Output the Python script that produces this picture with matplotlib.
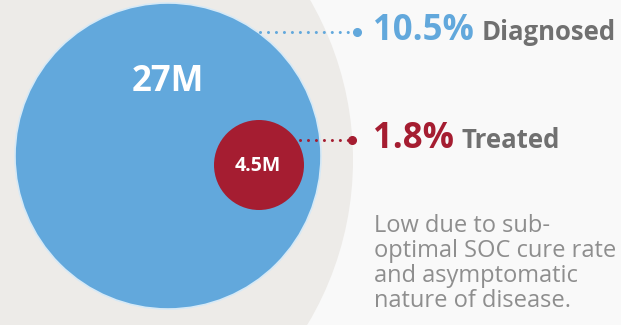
import matplotlib
matplotlib.use("Agg")
import matplotlib.pyplot as plt
from matplotlib.patches import Circle

# Figures shown in the graphic
population_labels = ["27M", "4.5M"]
rate_values = [10.5, 1.8]
rate_names = ["Diagnosed", "Treated"]
note_lines = ["Low due to sub-", "optimal SOC cure rate",
              "and asymptomatic", "nature of disease."]

BLUE = "#62a8dc"
RED = "#a51d31"
GRAY_TXT = "#707070"
NOTE_TXT = "#8e8e8e"
FONT = ["Open Sans", "DejaVu Sans"]

W, H = 621, 325
fig = plt.figure(figsize=(W / 100, H / 100), dpi=100)
fig.patch.set_facecolor("#f9f9f9")
ax = fig.add_axes([0, 0, 1, 1])
ax.set_xlim(0, W)
ax.set_ylim(H, 0)
ax.set_aspect("equal")
ax.axis("off")

# backdrop disc
ax.add_patch(Circle((33, 160), 320, facecolor="#edebe8", edgecolor="none", zorder=1))
# outer (diagnosed pool) and inner (treated) discs
ax.add_patch(Circle((168, 156), 153, facecolor=BLUE, edgecolor="#d6e9f6",
                    linewidth=1.2, zorder=2))
ax.add_patch(Circle((259, 165), 45, facecolor=RED, edgecolor="none", zorder=3))

ax.text(168, 82, population_labels[0], color="white", fontsize=25,
        fontweight="bold", ha="center", va="center", family=FONT, zorder=4)
ax.text(258, 166, population_labels[1], color="white", fontsize=14,
        fontweight="bold", ha="center", va="center", family=FONT, zorder=4)

# dotted leaders with end dots
leaders = [((260, 357), 32, BLUE), ((300, 352), 140, RED)]
for (x0, x1), y, c in leaders:
    ax.plot([x0, x1], [y, y], color=c, linewidth=2.2,
            linestyle=(0, (0.01, 2.6)), dash_capstyle="round", zorder=5)
    ax.plot([x1], [y], marker="o", markersize=5.5, color=c, zorder=5)

rate_colors = [BLUE, RED]
rate_y = [31, 139]
for v, name, c, y in zip(rate_values, rate_names, rate_colors, rate_y):
    t = ax.text(373, y, f"{v}%", color=c, fontsize=25, fontweight="bold",
                ha="left", va="center", family=FONT, zorder=5)
    fig.canvas.draw()
    bb = t.get_window_extent()
    x_end = bb.x1
    ax.text(x_end + 8, y + 2, name, color=GRAY_TXT, fontsize=18.5,
            fontweight="bold", ha="left", va="center", family=FONT, zorder=5)

for i, line in enumerate(note_lines):
    ax.text(374, 226 + i * 25, line, color=NOTE_TXT, fontsize=17,
            ha="left", va="center", family=FONT, zorder=5)

fig.savefig("out.png", dpi=100, facecolor=fig.get_facecolor())
